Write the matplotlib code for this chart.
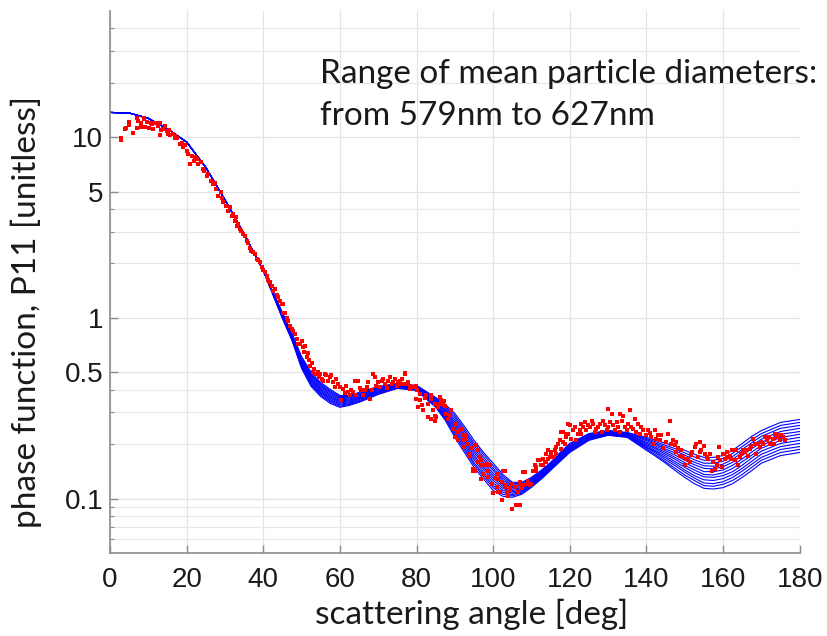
import numpy as np
import matplotlib
matplotlib.use("Agg")
import matplotlib.pyplot as plt
from matplotlib.ticker import FixedLocator, NullFormatter

# model curves, angles where all diameters give the same value
angles_shared = [0, 5, 10, 15, 20, 25, 30, 35, 40]
p11_shared = [13.7, 13.6, 12.7, 11.1, 9.4, 6.8, 4.5, 2.91, 1.83]

# model curves where the diameters fan out (one row per angle, 12 diameters)
angles_fan = [45, 47.5, 50, 52.5, 55, 57.5, 60, 62.5, 65, 67.5, 70, 75, 80, 85,
              87.5, 90, 92.5, 95, 97.5, 100, 102.5, 105, 107.5, 110, 112.5, 115,
              117.5, 120, 125, 130, 135, 140, 142.5, 145, 147.5, 150, 152.5, 155,
              157.5, 160, 162.5, 165, 167.5, 170, 175, 180]
p11_fan = [
    [1.070, 1.063, 1.055, 1.048, 1.041, 1.034, 1.026, 1.019, 1.012, 1.005, 0.998, 0.991],
    [0.819, 0.812, 0.806, 0.799, 0.793, 0.787, 0.780, 0.774, 0.768, 0.761, 0.755, 0.749],
    [0.611, 0.603, 0.594, 0.586, 0.578, 0.570, 0.562, 0.554, 0.547, 0.539, 0.532, 0.525],
    [0.499, 0.490, 0.483, 0.475, 0.467, 0.460, 0.452, 0.445, 0.438, 0.431, 0.424, 0.417],
    [0.439, 0.432, 0.425, 0.418, 0.412, 0.405, 0.398, 0.392, 0.386, 0.380, 0.373, 0.367],
    [0.402, 0.395, 0.389, 0.383, 0.376, 0.370, 0.364, 0.359, 0.353, 0.347, 0.342, 0.336],
    [0.372, 0.367, 0.362, 0.357, 0.352, 0.347, 0.343, 0.338, 0.333, 0.329, 0.324, 0.320],
    [0.372, 0.368, 0.364, 0.360, 0.355, 0.351, 0.347, 0.343, 0.339, 0.335, 0.332, 0.328],
    [0.387, 0.382, 0.378, 0.374, 0.369, 0.365, 0.361, 0.357, 0.353, 0.348, 0.344, 0.341],
    [0.402, 0.397, 0.393, 0.389, 0.385, 0.381, 0.377, 0.373, 0.370, 0.366, 0.362, 0.358],
    [0.417, 0.413, 0.410, 0.406, 0.402, 0.398, 0.395, 0.391, 0.388, 0.384, 0.380, 0.377],
    [0.434, 0.431, 0.429, 0.426, 0.424, 0.421, 0.419, 0.416, 0.414, 0.412, 0.409, 0.407],
    [0.423, 0.420, 0.418, 0.415, 0.413, 0.411, 0.408, 0.406, 0.403, 0.401, 0.399, 0.397],
    [0.363, 0.359, 0.355, 0.351, 0.346, 0.343, 0.339, 0.335, 0.331, 0.327, 0.323, 0.320],
    [0.332, 0.326, 0.320, 0.314, 0.308, 0.303, 0.297, 0.292, 0.286, 0.281, 0.276, 0.271],
    [0.296, 0.288, 0.280, 0.272, 0.265, 0.258, 0.251, 0.244, 0.237, 0.231, 0.224, 0.218],
    [0.251, 0.243, 0.236, 0.229, 0.222, 0.216, 0.209, 0.203, 0.197, 0.191, 0.186, 0.180],
    [0.210, 0.203, 0.197, 0.191, 0.185, 0.180, 0.174, 0.169, 0.164, 0.158, 0.154, 0.149],
    [0.180, 0.175, 0.169, 0.164, 0.159, 0.154, 0.149, 0.145, 0.140, 0.136, 0.132, 0.128],
    [0.157, 0.152, 0.147, 0.143, 0.138, 0.134, 0.130, 0.126, 0.122, 0.118, 0.115, 0.111],
    [0.1362, 0.1328, 0.1294, 0.1262, 0.1230, 0.1199, 0.1169, 0.1140, 0.1111, 0.1083, 0.1056, 0.1030],
    [0.1231, 0.1210, 0.1189, 0.1169, 0.1148, 0.1129, 0.1109, 0.1090, 0.1071, 0.1053, 0.1035, 0.1017],
    [0.1231, 0.1214, 0.1197, 0.1181, 0.1165, 0.1149, 0.1133, 0.1117, 0.1102, 0.1087, 0.1072, 0.1057],
    [0.1311, 0.1296, 0.1281, 0.1266, 0.1252, 0.1237, 0.1223, 0.1209, 0.1195, 0.1181, 0.1168, 0.1154],
    [0.1433, 0.1418, 0.1403, 0.1389, 0.1375, 0.1360, 0.1346, 0.1332, 0.1319, 0.1305, 0.1291, 0.1278],
    [0.1587, 0.1572, 0.1558, 0.1544, 0.1529, 0.1515, 0.1501, 0.1487, 0.1474, 0.1460, 0.1447, 0.1433],
    [0.1802, 0.1783, 0.1765, 0.1747, 0.1729, 0.1711, 0.1693, 0.1675, 0.1658, 0.1641, 0.1624, 0.1607],
    [0.202, 0.200, 0.198, 0.196, 0.194, 0.192, 0.190, 0.188, 0.186, 0.184, 0.182, 0.180],
    [0.229, 0.228, 0.226, 0.224, 0.222, 0.220, 0.219, 0.217, 0.215, 0.213, 0.212, 0.210],
    [0.238, 0.237, 0.236, 0.234, 0.233, 0.232, 0.230, 0.229, 0.228, 0.226, 0.225, 0.224],
    [0.232, 0.231, 0.230, 0.228, 0.227, 0.226, 0.224, 0.223, 0.222, 0.221, 0.219, 0.218],
    [0.218, 0.215, 0.212, 0.209, 0.205, 0.202, 0.199, 0.196, 0.193, 0.191, 0.188, 0.185],
    [0.210, 0.206, 0.202, 0.199, 0.195, 0.191, 0.188, 0.184, 0.181, 0.178, 0.174, 0.171],
    [0.202, 0.197, 0.193, 0.188, 0.184, 0.180, 0.176, 0.172, 0.168, 0.164, 0.160, 0.157],
    [0.195, 0.189, 0.184, 0.179, 0.174, 0.169, 0.165, 0.160, 0.156, 0.152, 0.147, 0.143],
    [0.185, 0.179, 0.174, 0.168, 0.163, 0.158, 0.153, 0.149, 0.144, 0.140, 0.135, 0.131],
    [0.176, 0.170, 0.164, 0.159, 0.154, 0.149, 0.144, 0.139, 0.134, 0.130, 0.126, 0.121],
    [0.169, 0.163, 0.157, 0.152, 0.147, 0.141, 0.136, 0.132, 0.127, 0.122, 0.118, 0.114],
    [0.169, 0.163, 0.157, 0.151, 0.146, 0.141, 0.135, 0.131, 0.126, 0.121, 0.117, 0.113],
    [0.173, 0.167, 0.161, 0.155, 0.150, 0.144, 0.139, 0.134, 0.129, 0.124, 0.120, 0.115],
    [0.185, 0.178, 0.171, 0.165, 0.159, 0.153, 0.147, 0.141, 0.136, 0.131, 0.126, 0.121],
    [0.202, 0.194, 0.187, 0.180, 0.173, 0.166, 0.160, 0.153, 0.147, 0.142, 0.136, 0.131],
    [0.221, 0.212, 0.204, 0.196, 0.189, 0.181, 0.174, 0.168, 0.161, 0.155, 0.149, 0.143],
    [0.238, 0.229, 0.221, 0.213, 0.205, 0.197, 0.190, 0.183, 0.176, 0.169, 0.163, 0.157],
    [0.264, 0.254, 0.245, 0.235, 0.227, 0.218, 0.210, 0.202, 0.194, 0.187, 0.180, 0.173],
    [0.274, 0.264, 0.254, 0.245, 0.235, 0.227, 0.218, 0.210, 0.202, 0.194, 0.187, 0.180],
]

# measured phase function (red dots)
meas_angle = [
    3.0, 3.0, 3.9, 4.1, 4.9, 5.0, 5.0, 6.1, 7.0, 7.1, 7.4, 8.0, 8.0, 8.8, 9.0, 9.1,
    9.6, 10.3, 10.6, 10.9, 11.3, 11.7, 12.0, 12.6, 13.0, 13.0, 13.4, 13.9, 14.3, 14.8,
    15.2, 15.5, 15.7, 16.4, 16.9, 17.0, 17.6, 18.3, 18.7, 19.1, 19.6, 20.2, 20.4, 20.9,
    21.3, 21.9, 22.2, 22.6, 23.0, 23.7, 24.2, 24.5, 25.2, 25.6, 26.3, 26.9, 27.3, 27.6,
    28.3, 28.9, 29.3, 29.6, 30.3, 30.9, 31.3, 31.8, 32.2, 32.6, 32.9, 33.2, 33.5, 34.0,
    34.3, 34.8, 35.2, 35.7, 36.1, 36.5, 36.9, 37.4, 37.8, 38.3, 38.7, 39.1, 39.6, 40.0,
    40.4, 40.9, 41.3, 41.7, 42.2, 42.6, 43.0, 43.5, 43.9, 44.3, 44.8, 45.2, 45.2, 45.7,
    46.1, 46.5, 47.0, 47.4, 47.8, 48.3, 48.9, 49.1, 49.6, 50.0, 50.3, 50.6, 50.9, 51.3,
    51.7, 52.0, 52.2, 52.6, 53.0, 53.3, 53.7, 54.3, 54.6, 54.9, 55.2, 55.6, 56.1, 56.5,
    56.9, 57.4, 57.8, 58.1, 58.7, 59.1, 59.6, 60.0, 60.2, 60.9, 61.3, 61.7, 62.2, 62.6,
    63.0, 63.5, 63.9, 64.3, 64.8, 65.2, 65.6, 66.1, 66.5, 67.1, 67.4, 67.8, 68.3, 68.7,
    69.1, 69.4, 70.0, 70.4, 70.9, 71.3, 71.7, 72.2, 72.6, 73.0, 73.5, 73.9, 74.3, 74.8,
    75.2, 75.7, 75.7, 76.1, 76.5, 76.9, 77.0, 77.4, 77.8, 78.3, 78.4, 79.1, 79.8, 79.8,
    80.2, 80.4, 80.9, 80.9, 81.3, 81.7, 82.2, 82.6, 83.0, 83.0, 83.9, 83.9, 83.9, 84.2,
    84.8, 84.8, 84.8, 85.2, 85.7, 86.0, 86.1, 86.5, 87.0, 87.1, 87.4, 87.8, 88.2, 88.7,
    89.1, 89.5, 90.0, 90.4, 90.9, 90.9, 91.3, 91.9, 92.2, 92.2, 92.2, 92.6, 93.0, 93.5,
    93.9, 93.9, 94.3, 94.8, 94.8, 95.2, 95.6, 96.1, 96.1, 96.5, 96.9, 96.9, 96.9, 97.4,
    97.8, 98.3, 98.7, 98.7, 99.1, 99.6, 100.0, 100.4, 100.9, 100.9, 101.3, 101.3, 101.9, 102.2,
    102.2, 102.6, 103.0, 103.0, 103.3, 103.5, 103.9, 104.3, 104.3, 104.8, 105.0, 105.6, 105.9, 106.5,
    106.9, 106.9, 106.9, 107.4, 107.8, 107.8, 108.3, 108.7, 109.1, 109.6, 110.0, 110.4, 110.9, 111.3,
    111.3, 111.7, 112.2, 112.6, 113.0, 113.0, 113.5, 113.9, 113.9, 114.3, 114.3, 114.8, 115.2, 115.2,
    115.7, 116.1, 116.5, 116.5, 117.0, 117.4, 117.8, 117.8, 118.1, 118.3, 118.7, 119.1, 119.1, 119.6,
    119.6, 120.0, 120.4, 120.9, 121.3, 121.7, 122.2, 122.6, 123.0, 123.0, 123.5, 123.9, 124.3, 124.8,
    125.2, 125.7, 126.1, 126.5, 126.9, 127.4, 127.8, 128.3, 128.7, 129.1, 129.6, 130.0, 130.0, 130.4,
    130.9, 131.3, 131.7, 132.2, 132.6, 133.0, 133.0, 133.5, 133.9, 134.3, 134.8, 135.2, 135.8, 136.1,
    136.5, 137.0, 137.4, 137.8, 138.3, 138.7, 139.1, 139.8, 140.4, 140.9, 141.3, 141.7, 142.2, 142.6,
    143.0, 143.5, 143.9, 144.3, 145.0, 145.7, 146.1, 146.5, 147.0, 147.4, 147.8, 147.8, 148.3, 148.7,
    149.1, 149.6, 150.0, 150.4, 150.9, 151.3, 151.7, 152.0, 152.6, 153.0, 153.5, 153.9, 154.1, 154.3,
    154.9, 155.2, 155.7, 156.1, 156.5, 157.0, 157.4, 157.8, 158.3, 158.7, 159.0, 159.1, 159.6, 160.0,
    160.4, 160.9, 161.0, 161.7, 162.0, 162.4, 163.0, 163.5, 163.9, 164.3, 164.8, 165.2, 165.7, 166.1,
    166.5, 167.0, 167.4, 167.8, 168.3, 168.7, 169.1, 169.6, 170.0, 170.4, 170.9, 171.5, 171.9, 172.2,
    172.9, 173.3, 173.5, 174.1, 174.4, 174.8, 175.2, 175.7, 176.1,
]
meas_p11 = [
    9.95, 9.6, 11.1, 11.3, 12.0, 12.2, 11.7, 10.6, 11.3, 12.7, 12.3, 11.9, 11.4, 12.6, 12.7, 11.4,
    12.2, 11.2, 11.9, 11.8, 11.1, 12.0, 11.9, 11.5, 11.9, 10.3, 11.0, 11.1, 11.5, 10.8,
    10.4, 10.9, 10.3, 10.4, 10.1, 9.95, 9.9, 9.15, 9.3, 8.8, 9.0, 8.4, 8.1, 7.1,
    7.9, 7.4, 7.8, 7.55, 7.1, 7.3, 6.7, 6.5, 6.1, 6.25, 5.74, 5.5, 5.6, 5.16,
    4.74, 4.94, 4.6, 4.35, 4.17, 3.92, 4.1, 3.67, 3.76, 3.45, 3.6, 3.24, 3.3, 3.1,
    3.04, 2.9, 2.85, 2.67, 2.6, 2.45, 2.35, 2.3, 2.26, 2.12, 2.1, 2.03, 1.92, 1.83,
    1.8, 1.71, 1.61, 1.58, 1.51, 1.41, 1.45, 1.33, 1.30, 1.24, 1.20, 1.19, 1.07, 1.07,
    1.0, 0.96, 0.906, 0.87, 0.85, 0.816, 0.765, 0.718, 0.72, 0.749, 0.688, 0.646, 0.703, 0.606,
    0.64, 0.581, 0.545, 0.56, 0.5, 0.52, 0.49, 0.5, 0.47, 0.49, 0.46, 0.45, 0.49, 0.48,
    0.45, 0.47, 0.48, 0.44, 0.414, 0.46, 0.43, 0.414, 0.353, 0.405, 0.383, 0.42, 0.388, 0.372,
    0.40, 0.388, 0.446, 0.372, 0.445, 0.41, 0.397, 0.372, 0.40, 0.414, 0.44, 0.357, 0.397, 0.49,
    0.47, 0.42, 0.44, 0.414, 0.45, 0.46, 0.43, 0.41, 0.45, 0.47, 0.43, 0.44, 0.46, 0.42,
    0.44, 0.43, 0.45, 0.46, 0.43, 0.49, 0.494, 0.43, 0.44, 0.405, 0.42, 0.414, 0.42, 0.357,
    0.397, 0.32, 0.38, 0.349, 0.328, 0.308, 0.36, 0.372, 0.335, 0.282, 0.357, 0.372, 0.277, 0.308,
    0.335, 0.288, 0.27, 0.282, 0.32, 0.364, 0.335, 0.349, 0.328, 0.346, 0.324, 0.295, 0.277, 0.29,
    0.308, 0.244, 0.219, 0.26, 0.21, 0.233, 0.24, 0.244, 0.224, 0.21, 0.193, 0.215, 0.224, 0.2,
    0.173, 0.177, 0.19, 0.143, 0.146, 0.143, 0.197, 0.185, 0.16, 0.17, 0.163, 0.129, 0.153, 0.137,
    0.153, 0.156, 0.143, 0.132, 0.153, 0.121, 0.107, 0.13, 0.137, 0.116, 0.129, 0.109, 0.109, 0.098,
    0.124, 0.143, 0.143, 0.116, 0.119, 0.109, 0.104, 0.114, 0.111, 0.12, 0.088, 0.116, 0.092, 0.109,
    0.092, 0.121, 0.124, 0.115, 0.119, 0.141, 0.141, 0.121, 0.125, 0.119, 0.121, 0.143, 0.153, 0.149,
    0.143, 0.163, 0.163, 0.153, 0.166, 0.153, 0.16, 0.16, 0.177, 0.185, 0.166, 0.17, 0.173, 0.181,
    0.17, 0.185, 0.177, 0.193, 0.201, 0.21, 0.233, 0.189, 0.233, 0.205, 0.201, 0.229, 0.219, 0.26,
    0.229, 0.254, 0.215, 0.24, 0.249, 0.21, 0.229, 0.24, 0.26, 0.229, 0.25, 0.265, 0.239, 0.255,
    0.249, 0.27, 0.26, 0.233, 0.244, 0.25, 0.26, 0.233, 0.27, 0.254, 0.24, 0.314, 0.249, 0.265,
    0.295, 0.254, 0.24, 0.265, 0.25, 0.295, 0.233, 0.27, 0.288, 0.249, 0.24, 0.26, 0.308, 0.25,
    0.244, 0.277, 0.235, 0.26, 0.229, 0.25, 0.239, 0.224, 0.239, 0.23, 0.219, 0.2, 0.239, 0.215,
    0.225, 0.21, 0.224, 0.19, 0.205, 0.229, 0.268, 0.201, 0.21, 0.197, 0.205, 0.181, 0.19, 0.173,
    0.185, 0.17, 0.153, 0.166, 0.166, 0.16, 0.175, 0.181, 0.193, 0.201, 0.17, 0.18, 0.205, 0.185,
    0.195, 0.177, 0.17, 0.166, 0.177, 0.143, 0.16, 0.146, 0.153, 0.17, 0.193, 0.163, 0.149, 0.177,
    0.166, 0.17, 0.181, 0.173, 0.165, 0.185, 0.163, 0.185, 0.153, 0.17, 0.177, 0.185, 0.18, 0.185,
    0.173, 0.189, 0.195, 0.215, 0.201, 0.177, 0.2, 0.193, 0.205, 0.2, 0.219, 0.21, 0.22, 0.201,
    0.215, 0.2, 0.229, 0.219, 0.225, 0.21, 0.225, 0.219, 0.21,
]

y_major = [0.1, 0.5, 1, 5, 10]
y_labels = ["0.1", "0.5", "1", "5", "10"]
y_minor = [0.06, 0.07, 0.08, 0.09, 0.2, 0.3, 0.4, 2, 3, 4, 20, 30, 40]
x_ticks = list(range(0, 181, 20))

fig = plt.figure(figsize=(8.27, 6.36), dpi=100)
ax = fig.add_axes([0.133, 0.1305, 0.834, 0.8525])

fan = np.array(p11_fan)
shared = np.array(p11_shared)
ang = np.concatenate([angles_shared, angles_fan])
for k in range(fan.shape[1]):
    val = np.concatenate([shared, fan[:, k]])
    ax.plot(ang, val, color="blue", lw=0.8, zorder=2)

ax.scatter(meas_angle, meas_p11, s=5, color="red", marker="s",
           linewidths=0, zorder=3)

ax.set_yscale("log")
ax.set_xlim(0, 180)
ax.set_ylim(0.05, 50)

ax.yaxis.set_major_locator(FixedLocator(y_major))
ax.set_yticklabels(y_labels)
ax.yaxis.set_minor_locator(FixedLocator(y_minor))
ax.yaxis.set_minor_formatter(NullFormatter())
ax.set_xticks(x_ticks)

ax.grid(True, which="major", color="#e3e3e3", lw=0.9, zorder=0)
ax.grid(True, which="minor", axis="y", color="#e8e8e8", lw=0.8, zorder=0)
ax.set_axisbelow(True)

for side in ["top", "right"]:
    ax.spines[side].set_visible(False)
for side in ["left", "bottom"]:
    ax.spines[side].set_color("#8c8c8c")
    ax.spines[side].set_linewidth(1.2)

ax.tick_params(which="both", direction="in", colors="#8c8c8c",
               labelcolor="#1a1a1a", labelsize=20)
ax.tick_params(which="major", length=6, width=1)
ax.tick_params(which="minor", length=3, width=0.8)
ax.tick_params(axis="x", pad=10)
ax.tick_params(axis="y", pad=5)
for lab in ax.get_xticklabels() + ax.get_yticklabels():
    lab.set_fontfamily("Liberation Sans")

ax.set_xlabel("scattering angle [deg]", fontfamily="Lato", fontsize=24,
              color="#1a1a1a", va="baseline")
ax.set_ylabel("phase function, P11 [unitless]", fontfamily="Lato",
              fontsize=24, color="#1a1a1a")
ax.xaxis.set_label_coords(0.525, -0.131)
ax.yaxis.set_label_coords(-0.098, 0.445)

fig.text(320 / 827, 1 - 83 / 636, "Range of mean particle diameters:",
         fontfamily="Lato", fontsize=24, color="#1a1a1a", va="baseline")
fig.text(320 / 827, 1 - 125 / 636, "from 579nm to 627nm",
         fontfamily="Lato", fontsize=24, color="#1a1a1a", va="baseline")

fig.savefig("out.png", dpi=100)
